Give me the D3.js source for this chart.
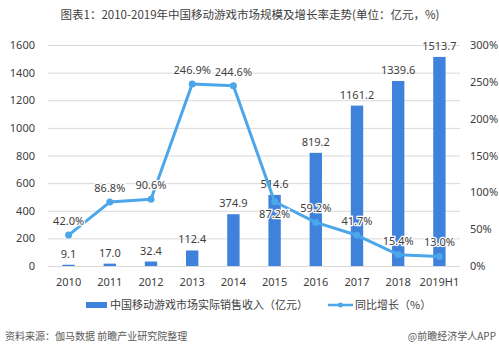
<!DOCTYPE html>
<html>
<head>
<meta charset="utf-8">
<script src="https://cdn.jsdelivr.net/npm/d3@7"></script>
<style>
  body { margin: 0; background: #fff; }
  svg text { font-family: "Noto Sans CJK SC", "Noto Sans", sans-serif; }
</style>
</head>
<body>
<script>
const years = ['2010', '2011', '2012', '2013', '2014', '2015', '2016', '2017', '2018', '2019H1']
const revenue = [9.1, 17.0, 32.4, 112.4, 374.9, 514.6, 819.2, 1161.2, 1339.6, 1513.7]
const growth = [42.0, 86.8, 90.6, 246.9, 244.6, 87.2, 59.2, 41.7, 15.4, 13.0]
const leftTicks = [0, 200, 400, 600, 800, 1000, 1200, 1400, 1600]
const rightTicks = [0, 50, 100, 150, 200, 250, 300]

const w = 499
const h = 352
const plotLeft = 48
const plotRight = 460
const plotTop = 45
const plotBottom = 266

const barColor = '#3f82dc'
const lineColor = '#4ba6ea'

const svg = d3.select('body')
  .append('svg')
  .attr('width', w)
  .attr('height', h)

svg.append('text')
  .attr('x', 250)
  .attr('y', 19)
  .attr('text-anchor', 'middle')
  .attr('font-size', 11.5)
  .attr('fill', '#404040')
  .text('图表1：2010-2019年中国移动游戏市场规模及增长率走势(单位：亿元，%)')

const xScale = d3.scaleBand()
  .domain(years)
  .range([plotLeft, plotRight])
  .paddingInner(0.7)
  .paddingOuter(0.35)
const yScale = d3.scaleLinear()
  .domain([0, 1600])
  .range([plotBottom, plotTop])
const y2Scale = d3.scaleLinear()
  .domain([0, 300])
  .range([plotBottom, plotTop])

// grid
svg.append('g')
  .selectAll('line')
  .data(leftTicks)
  .enter()
  .append('line')
  .attr('x1', plotLeft)
  .attr('x2', plotRight)
  .attr('y1', d => yScale(d) + 0.5)
  .attr('y2', d => yScale(d) + 0.5)
  .attr('stroke', '#d9d9d9')
  .attr('stroke-width', 1)

const yAxis = d3.axisLeft(yScale).tickValues(leftTicks).tickSize(0).tickPadding(13)
  .tickFormat(d3.format('d'))
const y2Axis = d3.axisRight(y2Scale).tickValues(rightTicks).tickSize(0).tickPadding(10)
  .tickFormat(d => d + '%')
const xAxis = d3.axisBottom(xScale).tickSize(0).tickPadding(12)

const gy = svg.append('g').attr('transform', `translate(${plotLeft}, 0)`).call(yAxis)
const gy2 = svg.append('g').attr('transform', `translate(${plotRight}, 0)`).call(y2Axis)
const gx = svg.append('g').attr('transform', `translate(0, ${plotBottom})`).call(xAxis)
;[gy, gy2, gx].forEach(g => {
  g.select('.domain').remove()
  g.selectAll('text')
    .attr('font-size', 11)
    .attr('fill', '#404040')
    .style('font-family', '"Noto Sans", sans-serif')
})

// bars
svg.selectAll('rect.bar')
  .data(revenue)
  .enter()
  .append('rect')
  .attr('class', 'bar')
  .attr('x', (d, i) => xScale(years[i]))
  .attr('y', d => yScale(d))
  .attr('width', xScale.bandwidth())
  .attr('height', d => plotBottom - yScale(d))
  .attr('fill', barColor)

svg.selectAll('text.barlabel')
  .data(revenue)
  .enter()
  .append('text')
  .attr('class', 'barlabel')
  .attr('x', (d, i) => xScale(years[i]) + xScale.bandwidth() / 2)
  .attr('y', d => yScale(d) - 7)
  .attr('text-anchor', 'middle')
  .attr('font-size', 11)
  .attr('fill', '#404040')
  .style('font-family', '"Noto Sans", sans-serif')
  .text(d => d.toFixed(1))

// line
const cx = (d, i) => xScale(years[i]) + xScale.bandwidth() / 2
const line = d3.line()
  .x(cx)
  .y(d => y2Scale(d))

svg.append('path')
  .datum(growth)
  .attr('d', line)
  .attr('fill', 'none')
  .attr('stroke', lineColor)
  .attr('stroke-width', 3)
  .attr('stroke-linejoin', 'round')

svg.selectAll('circle.pt')
  .data(growth)
  .enter()
  .append('circle')
  .attr('class', 'pt')
  .attr('cx', cx)
  .attr('cy', d => y2Scale(d))
  .attr('r', 3.5)
  .attr('fill', lineColor)

// 2015 label sits under its point
svg.selectAll('text.pct')
  .data(growth)
  .enter()
  .append('text')
  .attr('class', 'pct')
  .attr('x', cx)
  .attr('y', (d, i) => i === 5 ? y2Scale(d) + 16 : y2Scale(d) - 10)
  .attr('text-anchor', 'middle')
  .attr('font-size', 11)
  .attr('fill', '#404040')
  .attr('stroke', '#fff')
  .attr('stroke-width', 2.5)
  .attr('paint-order', 'stroke')
  .style('font-family', '"Noto Sans", sans-serif')
  .text(d => d.toFixed(1) + '%')

// legend
const legend = svg.append('g').attr('transform', 'translate(0, 305)')
legend.append('rect')
  .attr('x', 86).attr('y', -3).attr('width', 21).attr('height', 6)
  .attr('fill', barColor)
legend.append('text')
  .attr('x', 110).attr('y', 4)
  .attr('font-size', 11).attr('fill', '#404040')
  .text('中国移动游戏市场实际销售收入（亿元）')
legend.append('line')
  .attr('x1', 328).attr('x2', 353).attr('y1', 0).attr('y2', 0)
  .attr('stroke', lineColor).attr('stroke-width', 2.5)
legend.append('circle')
  .attr('cx', 340.5).attr('cy', 0).attr('r', 2.5)
  .attr('fill', lineColor)
legend.append('text')
  .attr('x', 355).attr('y', 4)
  .attr('font-size', 11).attr('fill', '#404040')
  .text('同比增长（%）')

// source
svg.append('text')
  .attr('x', 5).attr('y', 340)
  .attr('font-size', 10).attr('fill', '#595959')
  .text('资料来源：伽马数据 前瞻产业研究院整理')
svg.append('text')
  .attr('x', 496).attr('y', 340)
  .attr('text-anchor', 'end')
  .attr('font-size', 10).attr('fill', '#595959')
  .text('@前瞻经济学人APP')
</script>
</body>
</html>
